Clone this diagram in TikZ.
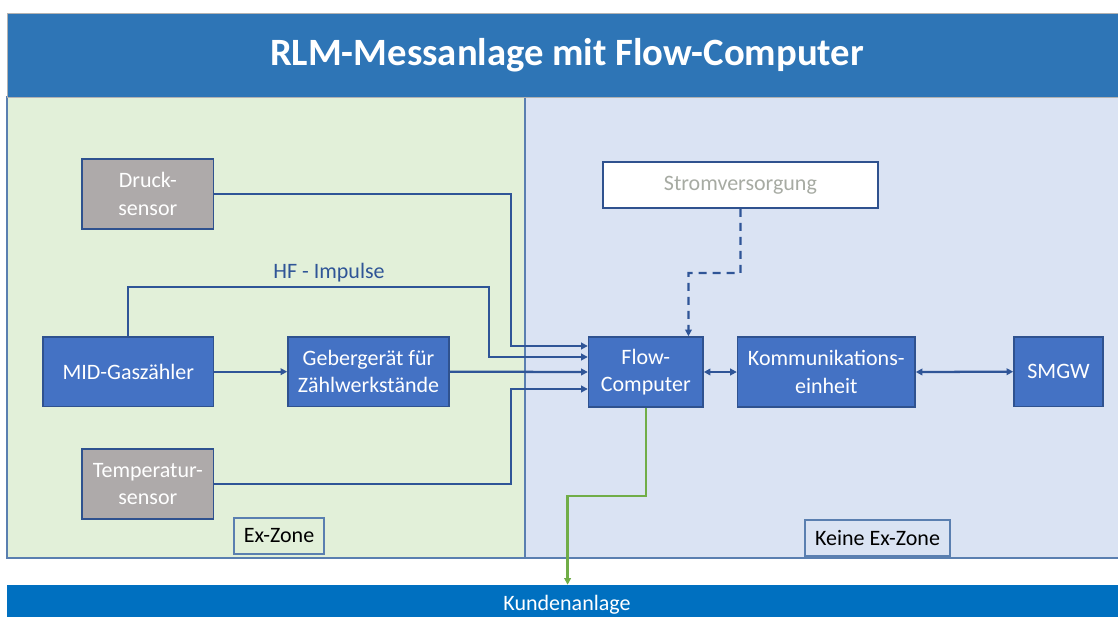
\documentclass[tikz,border=0pt]{standalone}
\usepackage{fontspec}
\setmainfont{Carlito}
\usetikzlibrary{arrows.meta}
\definecolor{titleblue}{HTML}{2E75B6}
\definecolor{custblue}{HTML}{0070C0}
\definecolor{exgreen}{HTML}{E2F0D9}
\definecolor{safeblue}{HTML}{DAE3F3}
\definecolor{boxblue}{HTML}{4472C4}
\definecolor{boxedge}{HTML}{2F528F}
\definecolor{sensorgrey}{HTML}{AEAAAA}
\definecolor{wire}{HTML}{2F5597}
\definecolor{outwire}{HTML}{70AD47}
\definecolor{zoneedge}{HTML}{5A7FB0}
\definecolor{mutedtext}{HTML}{A7ABA3}
\tikzset{
  unit/.style={draw=boxedge, line width=1.2pt, fill=boxblue, text=white,
    align=center, inner sep=0pt, font=\fontsize{16.5}{20.5}\selectfont},
  sensor/.style={unit, fill=sensorgrey},
  zonetag/.style={draw=zoneedge, line width=1pt, text=black,
    inner sep=0pt, font=\fontsize{16.5}{19}\selectfont},
  band/.style={inner sep=0pt, text=white},
  tip/.tip={Triangle[length=5pt,width=5pt]},
  conn/.style={draw=wire, line width=1.7pt, -tip},
  biconn/.style={conn, tip-tip},
  feed/.style={conn, dash pattern=on 6pt off 4.5pt},
  handover/.style={draw=outwire, line width=1.7pt, -tip}
}
\begin{document}
\begin{tikzpicture}[x=0.75pt, y=-0.75pt]
\useasboundingbox (0,0) rectangle (1118,617);
\clip (0,0) rectangle (1118,617);
\fill[white] (0,0) rectangle (1118,617);

% zones
\draw[zoneedge, line width=1pt, fill=exgreen] (7,97) rectangle (525,558);
\draw[zoneedge, line width=1pt, fill=safeblue] (525,97) rectangle (1127,558);

% header and customer band
\node[band, fill=titleblue, draw=gray!60, line width=0.6pt, minimum width=840pt, minimum height=63pt,
  font=\fontsize{29}{33}\selectfont\bfseries] (title) at (567,55) {RLM-Messanlage mit Flow-Computer};
\node[band, fill=custblue, minimum width=840pt, minimum height=30pt,
  font=\fontsize{16.5}{19}\selectfont] (kunden) at (567,605) {Kundenanlage};

% units
\node[sensor, minimum width=98.7pt, minimum height=52.5pt] (druck) at (147.8,194) {Druck-\\sensor};
\node[sensor, minimum width=98.7pt, minimum height=52.5pt] (temp) at (147.8,484) {Temperatur-\\sensor};
\node[unit, minimum width=128pt, minimum height=52.1pt] (mid) at (128.3,371.7) {MID-Gaszähler};
\node[unit, minimum width=120.75pt, minimum height=52.1pt] (geber) at (368.5,371.7) {Gebergerät für\\Zählwerkstände};
\node[unit, minimum width=85.8pt, minimum height=52.5pt] (flow) at (645.8,372) {Flow-\\Computer};
\node[unit, minimum width=133pt, minimum height=52.5pt] (komm) at (826.3,372) {Kommunikations-\\einheit};
\node[unit, minimum width=66.75pt, minimum height=52.1pt] (smgw) at (1058.5,371.7) {SMGW};
\node[unit, fill=white, text=mutedtext, minimum width=206.5pt, minimum height=34.5pt] (strom) at (740.4,185) {Stromversorgung};

% zone tags
\node[zonetag, minimum width=67.5pt, minimum height=27pt] (exz) at (279,536) {Ex-Zone};
\node[zonetag, minimum width=108.75pt, minimum height=27pt] (keine) at (877.5,538) {Keine Ex-Zone};

% signal lines into the flow computer
\draw[conn] (druck.east) -| (511,346) -- ([yshift=19.5pt]flow.west);
\draw[conn] (mid.north) |- (489,287) |- ([yshift=11.25pt]flow.west);
\draw[conn] (geber.east) -- (flow.west);
\draw[conn] (temp.east) -| (511,389) -- ([yshift=-12.75pt]flow.west);
\draw[conn] (mid.east) -- (geber.west);
\node[text=wire, font=\fontsize{16.5}{19}\selectfont] (hf) at (329,273) {HF - Impulse};

% communication
\draw[biconn] (flow.east) -- (komm.west);
\draw[biconn] (komm.east) -- (smgw.west);

% power feed and handover to the customer side
\draw[feed] (strom.south) |- (688.5,273) -- ([xshift=32pt]flow.north);
\draw[handover] (flow.south) |- (567.6,496) -- (kunden.north -| 567.6,0);
\end{tikzpicture}
\end{document}
